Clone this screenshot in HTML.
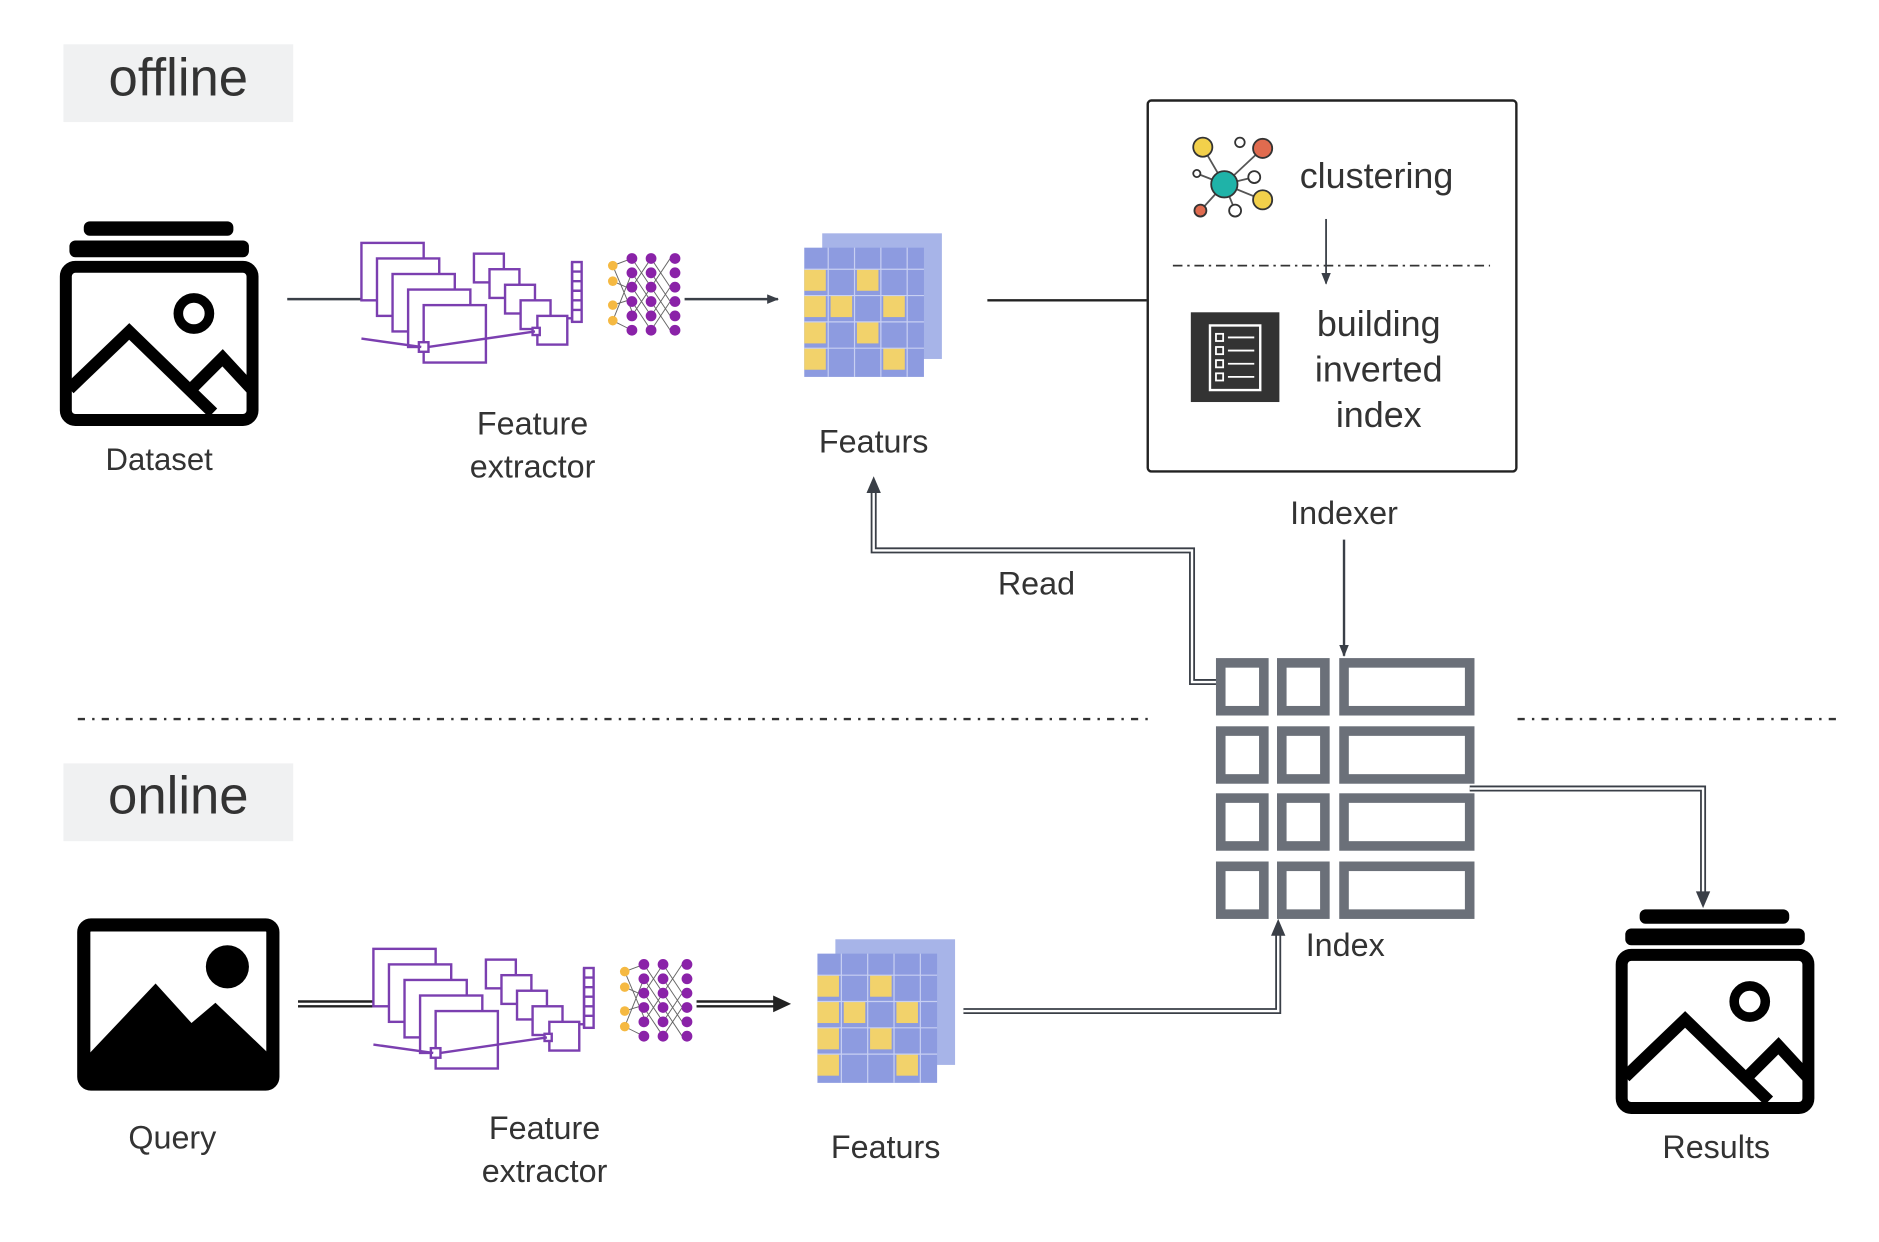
<!DOCTYPE html>
<html><head><meta charset="utf-8"><style>
html,body{margin:0;padding:0;background:#fff;}
svg{display:block;}
text{font-family:"Liberation Sans",sans-serif;fill:#333;}
</style></head><body>
<svg width="1879" height="1242" viewBox="0 0 1570 1038" preserveAspectRatio="none" xmlns="http://www.w3.org/2000/svg">
<defs>
<marker id="ah" markerWidth="10" markerHeight="8" refX="9" refY="4" orient="auto" markerUnits="userSpaceOnUse"><path d="M0,0 L10,4 L0,8 Z" fill="#3a3f47"/></marker>
<g id="ext">
 <g fill="#fff" stroke="#7b3fb0" stroke-width="2">
  <rect x="0" y="3" width="52" height="48"/><rect x="13" y="16" width="52" height="48"/><rect x="26" y="29" width="52" height="48"/><rect x="39" y="42" width="52" height="48"/><rect x="52" y="55" width="52" height="48"/>
  <rect x="94" y="12" width="25" height="24"/><rect x="107" y="25" width="25" height="24"/><rect x="120" y="38" width="25" height="24"/><rect x="133" y="51" width="25" height="24"/><rect x="147" y="64" width="25" height="24"/>
  <rect x="176" y="19" width="8" height="50"/>
  <rect x="48" y="86" width="8" height="8"/><rect x="143" y="74" width="6" height="6"/>
 </g>
 <g stroke="#7b3fb0" stroke-width="2" fill="none">
  <line x1="0" y1="83" x2="50" y2="90"/><line x1="56" y1="90" x2="145" y2="77"/><line x1="172" y1="66" x2="176" y2="66"/>
  <path d="M176,19 v50 M176,27h8 M176,35h8 M176,43h8 M176,51h8 M176,59h8"/>
 </g>
 <g stroke="#666" stroke-width="0.8">
  <path d="M210,22 L226,16 M210,35 L226,42 M210,55 L226,50 M210,68 L226,76 M210,22 L226,60 M210,68 L226,28 M226,16 L242,40 M226,40 L242,16 M242,16 L258,40 M242,40 L258,16 M226,40 L242,64 M226,64 L242,40 M242,40 L258,64 M242,64 L258,40 M226,52 L242,76 M242,52 L258,76 M242,76 L258,52 M226,28 L242,52 M242,28 L258,52"/>
 </g>
 <g fill="#f5b942"><circle cx="210" cy="22" r="4"/><circle cx="210" cy="35" r="4"/><circle cx="210" cy="55" r="4"/><circle cx="210" cy="68" r="4"/></g>
 <g fill="#8a22a8">
  <circle cx="226" cy="16" r="4.5"/><circle cx="226" cy="28" r="4.5"/><circle cx="226" cy="40" r="4.5"/><circle cx="226" cy="52" r="4.5"/><circle cx="226" cy="64" r="4.5"/><circle cx="226" cy="76" r="4.5"/>
  <circle cx="242" cy="16" r="4.5"/><circle cx="242" cy="28" r="4.5"/><circle cx="242" cy="40" r="4.5"/><circle cx="242" cy="52" r="4.5"/><circle cx="242" cy="64" r="4.5"/><circle cx="242" cy="76" r="4.5"/>
  <circle cx="262" cy="16" r="4.5"/><circle cx="262" cy="28" r="4.5"/><circle cx="262" cy="40" r="4.5"/><circle cx="262" cy="52" r="4.5"/><circle cx="262" cy="64" r="4.5"/><circle cx="262" cy="76" r="4.5"/>
 </g>
</g>
<g id="cube">
 <rect x="15" y="0" width="100" height="105" fill="#a7b4e8"/>
 <rect x="0" y="12" width="100" height="108" fill="#8d9be0"/>
 <g fill="#f2d26b">
  <rect x="0" y="30" width="18" height="18"/><rect x="0" y="52" width="18" height="18"/><rect x="0" y="74" width="18" height="18"/><rect x="0" y="96" width="18" height="18"/>
  <rect x="22" y="52" width="18" height="18"/><rect x="44" y="74" width="18" height="18"/><rect x="66" y="52" width="18" height="18"/><rect x="66" y="96" width="18" height="18"/><rect x="44" y="30" width="18" height="18"/>
 </g>
 <g stroke="#c8d0f2" stroke-width="1" fill="none"><path d="M0,30h100 M0,52h100 M0,74h100 M0,96h100 M20,12v108 M42,12v108 M64,12v108 M86,12v108"/></g>
</g>
<g id="stack">
 <rect x="20" y="0" width="125" height="12" rx="5" fill="#000"/>
 <rect x="8" y="16" width="150" height="14" rx="5" fill="#000"/>
 <rect x="5" y="38" width="156" height="128" rx="8" fill="#fff" stroke="#000" stroke-width="10"/>
 <polyline points="8,140 58,92 128,160" fill="none" stroke="#000" stroke-width="10"/>
 <polyline points="112,138 136,114 160,140" fill="none" stroke="#000" stroke-width="10"/>
 <circle cx="112" cy="77" r="13" fill="none" stroke="#000" stroke-width="8"/>
</g>
</defs>

<rect x="53" y="37" width="192" height="65" fill="#f0f1f2"/>
<text x="149" y="80" font-size="44" text-anchor="middle">offline</text>
<rect x="53" y="638" width="192" height="65" fill="#f0f1f2"/>
<text x="149" y="680" font-size="44" text-anchor="middle">online</text>

<use href="#stack" x="50" y="185"/>
<text x="133" y="393" font-size="26" text-anchor="middle">Dataset</text>
<line x1="240" y1="250" x2="302" y2="250" stroke="#3a3f47" stroke-width="2"/>
<use href="#ext" x="302" y="200"/>
<text x="445" y="363" font-size="27" text-anchor="middle">Feature</text>
<text x="445" y="399" font-size="27" text-anchor="middle">extractor</text>
<line x1="572" y1="250" x2="650" y2="250" stroke="#3a3f47" stroke-width="2" marker-end="url(#ah)"/>
<use href="#cube" x="672" y="195"/>
<text x="730" y="378" font-size="27" text-anchor="middle">Featurs</text>
<line x1="825" y1="251" x2="958" y2="251" stroke="#222" stroke-width="2"/>

<rect x="959" y="84" width="308" height="310" rx="3" fill="#fff" stroke="#222" stroke-width="2"/>
<g stroke="#555" stroke-width="1.5">
 <line x1="1023" y1="154" x2="1005" y2="123"/><line x1="1023" y1="154" x2="1055" y2="124"/><line x1="1023" y1="154" x2="1055" y2="167"/><line x1="1023" y1="154" x2="1003" y2="176"/><line x1="1023" y1="154" x2="1032" y2="176"/><line x1="1023" y1="154" x2="1048" y2="148"/><line x1="1023" y1="154" x2="1000" y2="145"/>
</g>
<circle cx="1023" cy="154" r="11" fill="#1fb3a8" stroke="#333" stroke-width="1.5"/>
<circle cx="1005" cy="123" r="8" fill="#f2d04b" stroke="#333" stroke-width="1.5"/>
<circle cx="1055" cy="124" r="8" fill="#e06b4f" stroke="#333" stroke-width="1.5"/>
<circle cx="1055" cy="167" r="8" fill="#f2d04b" stroke="#333" stroke-width="1.5"/>
<circle cx="1003" cy="176" r="5" fill="#e06b4f" stroke="#333" stroke-width="1.5"/>
<circle cx="1032" cy="176" r="5" fill="#fff" stroke="#333" stroke-width="1.5"/>
<circle cx="1048" cy="148" r="5" fill="#fff" stroke="#333" stroke-width="1.5"/>
<circle cx="1036" cy="119" r="4" fill="#fff" stroke="#333" stroke-width="1.5"/>
<circle cx="1000" cy="145" r="3" fill="#fff" stroke="#333" stroke-width="1.5"/>
<text x="1086" y="157" font-size="30">clustering</text>
<line x1="980" y1="222" x2="1245" y2="222" stroke="#333" stroke-width="1.5" stroke-dasharray="8,4,2,4"/>
<line x1="1108" y1="183" x2="1108" y2="237" stroke="#3a3f47" stroke-width="1.5" marker-end="url(#ah)"/>
<rect x="995" y="261" width="74" height="75" fill="#333"/>
<rect x="1011" y="272" width="42" height="54" fill="none" stroke="#fff" stroke-width="2"/>
<g stroke="#fff" stroke-width="1.5" fill="none"><rect x="1016" y="279" width="6" height="6"/><rect x="1016" y="290" width="6" height="6"/><rect x="1016" y="301" width="6" height="6"/><rect x="1016" y="312" width="6" height="6"/><path d="M1026,282h22 M1026,293h22 M1026,304h22 M1026,315h22"/></g>
<text x="1152" y="281" font-size="30" text-anchor="middle">building</text>
<text x="1152" y="319" font-size="30" text-anchor="middle">inverted</text>
<text x="1152" y="357" font-size="30" text-anchor="middle">index</text>
<text x="1123" y="438" font-size="27" text-anchor="middle">Indexer</text>
<line x1="1123" y1="451" x2="1123" y2="548" stroke="#3a3f47" stroke-width="2" marker-end="url(#ah)"/>

<g fill="none" stroke="#6b7079" stroke-width="8">
 <rect x="1020" y="554" width="36" height="40"/><rect x="1071" y="554" width="36" height="40"/><rect x="1123" y="554" width="105" height="40"/>
 <rect x="1020" y="611" width="36" height="40"/><rect x="1071" y="611" width="36" height="40"/><rect x="1123" y="611" width="105" height="40"/>
 <rect x="1020" y="667" width="36" height="40"/><rect x="1071" y="667" width="36" height="40"/><rect x="1123" y="667" width="105" height="40"/>
 <rect x="1020" y="724" width="36" height="40"/><rect x="1071" y="724" width="36" height="40"/><rect x="1123" y="724" width="105" height="40"/>
</g>
<text x="1124" y="799" font-size="27" text-anchor="middle">Index</text>

<path d="M1016,570 H996 V460 H730 V410" fill="none" stroke="#3a3f47" stroke-width="5"/>
<path d="M1016,570 H996 V460 H730 V410" fill="none" stroke="#fff" stroke-width="2"/>
<path d="M724,412 L730,398 L736,412 Z" fill="#3a3f47"/>
<text x="866" y="497" font-size="27" text-anchor="middle">Read</text>

<line x1="65" y1="601" x2="960" y2="601" stroke="#333" stroke-width="2" stroke-dasharray="6,6,2,6"/>
<line x1="1268" y1="601" x2="1535" y2="601" stroke="#333" stroke-width="2" stroke-dasharray="6,6,2,6"/>

<rect x="70" y="773" width="158" height="133" rx="6" fill="#fff" stroke="#000" stroke-width="11"/>
<path d="M75,880 L130,822 L160,855 L180,838 L224,880 V901 H75 Z" fill="#000"/>
<circle cx="190" cy="808" r="18" fill="#000"/>
<text x="144" y="960" font-size="27" text-anchor="middle">Query</text>
<path d="M249,839 H312" stroke="#222" stroke-width="6"/><path d="M249,839 H312" stroke="#fff" stroke-width="2"/>
<use href="#ext" x="312" y="790"/>
<text x="455" y="952" font-size="27" text-anchor="middle">Feature</text>
<text x="455" y="988" font-size="27" text-anchor="middle">extractor</text>
<path d="M582,839 H648" stroke="#222" stroke-width="6"/><path d="M582,839 H648" stroke="#fff" stroke-width="2"/>
<path d="M646,832 L661,839 L646,846 Z" fill="#222"/>
<use href="#cube" x="683" y="785"/>
<text x="740" y="968" font-size="27" text-anchor="middle">Featurs</text>

<path d="M805,845 H1068 V780" fill="none" stroke="#3a3f47" stroke-width="5"/>
<path d="M805,845 H1068 V780" fill="none" stroke="#fff" stroke-width="2"/>
<path d="M1062,782 L1068,768 L1074,782 Z" fill="#3a3f47"/>
<path d="M1228,659 H1423 V746" fill="none" stroke="#3a3f47" stroke-width="5"/>
<path d="M1228,659 H1423 V746" fill="none" stroke="#fff" stroke-width="2"/>
<path d="M1417,745 L1423,759 L1429,745 Z" fill="#3a3f47"/>

<use href="#stack" x="1350" y="760"/>
<text x="1434" y="968" font-size="27" text-anchor="middle">Results</text>
</svg>
</body></html>
